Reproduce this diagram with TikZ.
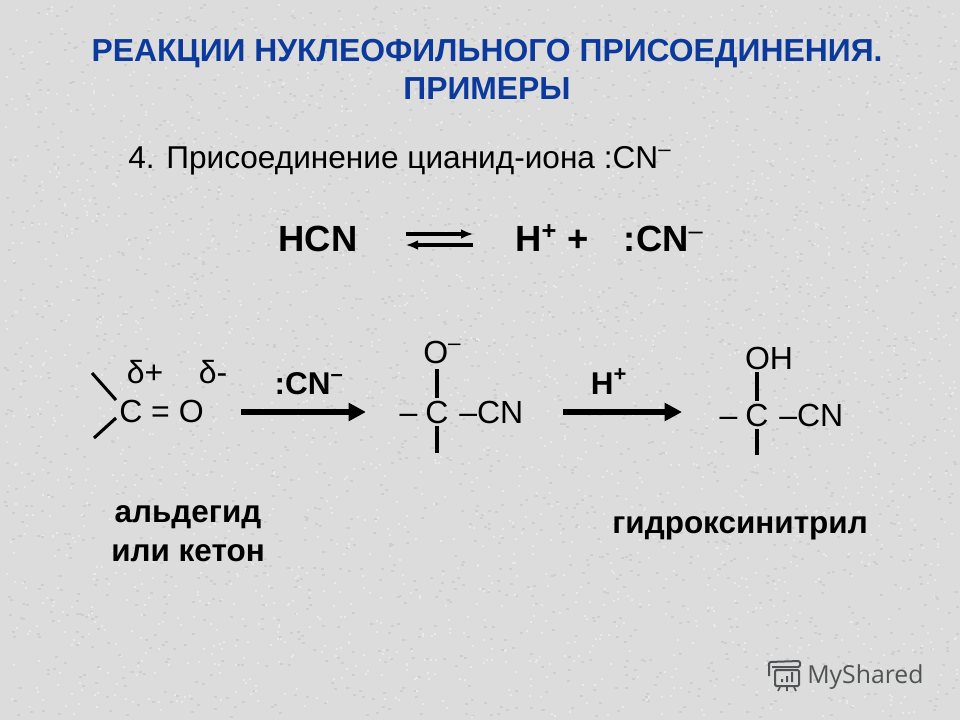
\documentclass[tikz,border=0pt]{standalone}
\usepackage{xcolor}
\usepackage{fontspec}
\setmainfont{Liberation Sans}
\newfontfamily\logofont{Open Sans}
\definecolor{slidegray}{HTML}{DCDCDC}
\definecolor{speckdark}{HTML}{CECECE}
\definecolor{specklight}{HTML}{E9E9E9}
\definecolor{titleblue}{HTML}{0B3A9C}
\definecolor{logogray}{HTML}{505354}
\usetikzlibrary{arrows.meta, positioning}
\tikzset{
  titletxt/.style={font=\fontsize{23.9}{28}\selectfont\bfseries, text=titleblue, inner sep=0pt, anchor=base},
  chemtxt/.style={font=\fontsize{24}{28}\selectfont, inner sep=1.5pt, anchor=base},
  chembold/.style={font=\fontsize{27.3}{32}\selectfont\bfseries, inner sep=0pt, anchor=base},
  labeltxt/.style={font=\fontsize{23.6}{28}\selectfont\bfseries, inner sep=0pt, anchor=base},
  bond/.style={line width=2.3pt},
  bigarrow/.style={line width=3.8pt, -{Triangle[length=13pt,width=13pt]}},
  eqarrow/.style={line width=2.3pt, -{Latex[length=9pt,width=7.5pt]}},
}
\begin{document}
\begin{tikzpicture}[x=0.75pt,y=-0.75pt]
\useasboundingbox (0,0) rectangle (960,720);
% Draw speckled slide background
\fill[slidegray] (0,0) rectangle (960,720);
\pgfmathsetseed{4}
\foreach \i in {1,...,2200} {
    \pgfmathsetmacro{\xpos}{480+476*rand}
    \pgfmathsetmacro{\ypos}{360+356*rand}
    \fill[speckdark] (\xpos,\ypos) rectangle +(3,2);
    \pgfmathsetmacro{\xpos}{480+476*rand}
    \pgfmathsetmacro{\ypos}{360+356*rand}
    \fill[specklight] (\xpos,\ypos) rectangle +(2,2);
}
% Title and heading
\node[titletxt] (titleA) at (487,62) {РЕАКЦИИ НУКЛЕОФИЛЬНОГО ПРИСОЕДИНЕНИЯ.};
\node[titletxt] (titleB) at (487,100) {ПРИМЕРЫ};
\node[chemtxt, anchor=base west, inner sep=0pt, font=\fontsize{23.7}{28}\selectfont] (heading) at (128,169) {4. Присоединение цианид-иона :CN\textsuperscript{–}};
% Dissociation of HCN
\node[chembold] (hcn) at (318,252) {HCN};
\node[chembold, anchor=base west] (ions) at (515,252) {H\textsuperscript{+} + \hspace{19pt}:CN\textsuperscript{\mdseries –}};
\coordinate (eqA) at (406,234);
\coordinate (eqB) at (473,234);
\coordinate (eqC) at (473,245);
\coordinate (eqD) at (406,245);
\draw[eqarrow] (eqA) -- (eqB);
\draw[eqarrow] (eqC) -- (eqD);
% Carbonyl compound
\node[chemtxt, anchor=base west, inner sep=0pt] (carbonyl) at (119,422) {C = O};
\node[chemtxt, inner sep=0pt] (dplus) at (145,383) {δ+};
\node[chemtxt, inner sep=0pt] (dminus) at (213,383) {δ-};
\coordinate (subA) at (92,373);
\coordinate (subB) at (116,400);
\coordinate (subC) at (94,438);
\coordinate (subD) at (116,418);
\draw[bond] (subA) -- (subB);
\draw[bond] (subC) -- (subD);
\node[labeltxt] (nameA) at (188,522) {альдегид};
\node[labeltxt] (nameB) at (188,561) {или кетон};
% First step
\node[labeltxt] (cnion) at (309,394) {:CN\textsuperscript{–}};
\coordinate (stepA) at (241,412);
\coordinate (stepB) at (366,412);
\draw[bigarrow] (stepA) -- (stepB);
% Alkoxide
\node[chemtxt] (cA) at (437,423) {C};
\node[chemtxt, left=13pt of cA.base, anchor=base east] (dashA) {–};
\node[chemtxt, right=15pt of cA.base, anchor=base west] (cnA) {–CN};
\node[chemtxt, inner sep=0pt, anchor=base west] (oA) at (423,363) {O\textsuperscript{–}};
\coordinate (bondAtop) at (437,369);
\coordinate (bondAend) at (437,453);
\draw[bond] (bondAtop) -- (cA);
\draw[bond] (cA) -- (bondAend);
% Second step
\node[labeltxt] (proton) at (609,394) {H\textsuperscript{+}};
\coordinate (stepC) at (563,412);
\coordinate (stepD) at (682,412);
\draw[bigarrow] (stepC) -- (stepD);
% Hydroxynitrile
\node[chemtxt] (cB) at (757,426) {C};
\node[chemtxt, left=13pt of cB.base, anchor=base east] (dashB) {–};
\node[chemtxt, right=15pt of cB.base, anchor=base west] (cnB) {–CN};
\node[chemtxt, inner sep=0pt] (oh) at (769,369) {OH};
\coordinate (bondBtop) at (757,372);
\coordinate (bondBend) at (757,455);
\draw[bond] (bondBtop) -- (cB);
\draw[bond] (cB) -- (bondBend);
\node[labeltxt] (nameC) at (740,533) {гидроксинитрил};
% Watermark
\draw[logogray, line width=1.5pt, rounded corners=1pt] (775,670) rectangle (799,686);
\draw[logogray, line width=1.5pt, rounded corners=1.5pt] (769,676) -- (769,662) -- (800,661) -- (800,667) -- (772,667);
\fill[logogray] (781,679) rectangle (783,682) (786,676) rectangle (788,682) (791,672) rectangle (793,682);
\draw[logogray, line width=1.3pt] (780,687) -- (778,691) (787,687) -- (787,691) (794,687) -- (796,691);
\node[font=\logofont\fontsize{18.6}{24}\selectfont, text=logogray, inner sep=0pt, anchor=base west] (logo) at (807,683) {MyShared};
\end{tikzpicture}
\end{document}
